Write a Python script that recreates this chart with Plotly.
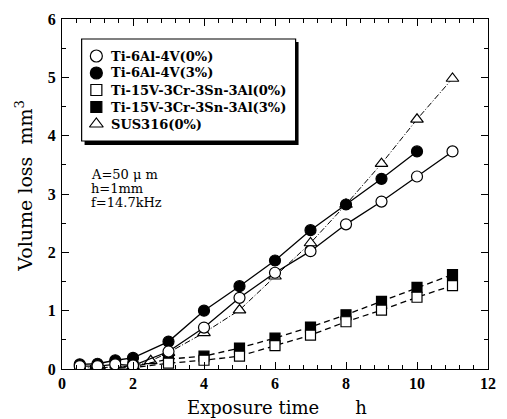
import plotly.graph_objects as go

# ---- data ----
x_ti64_0 = [0.5, 1, 1.5, 2, 3, 4, 5, 6, 7, 8, 9, 10, 11]
y_ti64_0 = [0.05, 0.05, 0.08, 0.06, 0.30, 0.71, 1.22, 1.65, 2.02, 2.48, 2.87, 3.30, 3.73]
x_ti64_3 = [0.5, 1, 1.5, 2, 3, 4, 5, 6, 7, 8, 9, 10]
y_ti64_3 = [0.08, 0.09, 0.15, 0.19, 0.47, 1.00, 1.42, 1.86, 2.38, 2.82, 3.26, 3.73]
x_ti15_0 = [0.5, 1, 2, 3, 4, 5, 6, 7, 8, 9, 10, 11]
y_ti15_0 = [0.01, 0.01, 0.02, 0.10, 0.15, 0.22, 0.40, 0.58, 0.81, 1.01, 1.23, 1.43]
x_ti15_3 = [0.5, 1, 2, 3, 4, 5, 6, 7, 8, 9, 10, 11]
y_ti15_3 = [0.02, 0.02, 0.04, 0.17, 0.22, 0.36, 0.53, 0.72, 0.93, 1.16, 1.40, 1.62]
x_sus = [0.5, 1, 2, 2.5, 3, 4, 5, 6, 7, 8, 9, 10, 11]
y_sus = [0.02, 0.02, 0.05, 0.14, 0.28, 0.62, 1.01, 1.59, 2.16, 2.82, 3.52, 4.28, 4.98]

names = ["Ti-6Al-4V(0%)", "Ti-6Al-4V(3%)", "Ti-15V-3Cr-3Sn-3Al(0%)",
         "Ti-15V-3Cr-3Sn-3Al(3%)", "SUS316(0%)"]
x_ticks = [0, 2, 4, 6, 8, 10, 12]
y_ticks = [0, 1, 2, 3, 4, 5, 6]
cond_lines = ["A=50 \u03bc m", "h=1mm", "f=14.7kHz"]

SERIF = "Liberation Serif"
WIDE = "DejaVu Serif"

# ---- styles ----
styles = [
    dict(symbol="circle", fill="white", dash="solid", lw=1.3, size=11),
    dict(symbol="circle", fill="black", dash="solid", lw=1.3, size=11),
    dict(symbol="square", fill="white", dash="6px,4px", lw=1.3, size=10),
    dict(symbol="square", fill="black", dash="6px,4px", lw=1.3, size=10),
    dict(symbol="triangle-up", fill="white", dash="6px,2px,1px,2px", lw=1.0, size=11),
]
series = [(x_ti64_0, y_ti64_0), (x_ti64_3, y_ti64_3), (x_ti15_0, y_ti15_0),
          (x_ti15_3, y_ti15_3), (x_sus, y_sus)]
order = [4, 3, 2, 1, 0]

fig = go.Figure()
for i in order:
    xs, ys = series[i]
    s = styles[i]
    fig.add_trace(go.Scatter(
        x=xs, y=ys, mode="lines+markers", name=names[i], showlegend=False,
        line=dict(color="black", width=s["lw"], dash=s["dash"]),
        marker=dict(symbol=s["symbol"], size=s["size"], color=s["fill"],
                    line=dict(color="black", width=1.2)),
    ))

# plot area in pixels
L, R, T, B = 62, 496, 19, 369
W, H = R - L, B - T
def px(x):
    return (x - L) / W
def py(y):
    return (B - y) / H

# legend (manual)
rows = [56, 73, 90, 107, 124]
for i in range(5):
    s = styles[i]
    fig.add_trace(go.Scatter(
        x=[px(97)], y=[py(rows[i])], xaxis="x2", yaxis="y2", mode="markers",
        showlegend=False, hoverinfo="skip",
        marker=dict(symbol=s["symbol"], size=s["size"] + 1, color=s["fill"],
                    line=dict(color="black", width=1.2)),
    ))
    fig.add_annotation(x=px(110), y=py(rows[i]), xref="paper", yref="paper",
                       text="<b>" + names[i] + "</b>", showarrow=False,
                       xanchor="left", yanchor="middle",
                       font=dict(family=WIDE, size=13, color="black"))

fig.add_shape(type="rect", xref="paper", yref="paper", layer="below",
              x0=px(85), x1=px(303), y0=py(145), y1=py(42),
              fillcolor="black", line=dict(width=0))
fig.add_shape(type="rect", xref="paper", yref="paper", layer="below",
              x0=px(82), x1=px(300), y0=py(141), y1=py(39),
              fillcolor="white", line=dict(color="black", width=1.2))

for j, t in enumerate(cond_lines):
    fig.add_annotation(x=px(90), y=py(174 + 14 * j), xref="paper", yref="paper",
                       text=t, showarrow=False, xanchor="left", yanchor="middle",
                       font=dict(family=WIDE, size=13, color="black"))

fig.add_annotation(x=px(281), y=py(407), xref="paper", yref="paper",
                   text="Exposure time\u3000\u3000h", showarrow=False, yanchor="middle",
                   font=dict(family=WIDE, size=18, color="black"))
fig.add_annotation(x=px(23), y=py(186), xref="paper", yref="paper",
                   text="Volume loss  mm<sup>3</sup>", showarrow=False, textangle=-90,
                   xanchor="center", yanchor="middle",
                   font=dict(family=WIDE, size=19, color="black"))

axis_common = dict(showgrid=False, zeroline=False, showline=True, linecolor="black",
                   linewidth=1.3, mirror="ticks", ticks="inside", ticklen=7, tickwidth=1.2,
                   tickcolor="black",
                   tickfont=dict(family=SERIF, size=16, color="black"))
fig.update_layout(
    width=507, height=419,
    margin=dict(l=L, r=507 - R, t=T, b=419 - B),
    paper_bgcolor="white", plot_bgcolor="white",
    font=dict(family=SERIF, color="black"),
    xaxis=dict(range=[0, 12], tickvals=x_ticks, ticktext=["<b>%d</b>" % v for v in x_ticks],
               minor=dict(dtick=0.4, tick0=0, ticks="inside", ticklen=4, tickcolor="black", tickwidth=1),
               **axis_common),
    yaxis=dict(range=[0, 6], tickvals=y_ticks, ticktext=["<b>%d</b>" % v for v in y_ticks],
               ticklabelstandoff=2,
               minor=dict(dtick=0.5, tick0=0, ticks="inside", ticklen=4, tickcolor="black", tickwidth=1),
               **axis_common),
    xaxis2=dict(range=[0, 1], overlaying="x", visible=False, anchor="y2"),
    yaxis2=dict(range=[0, 1], overlaying="y", visible=False, anchor="x2"),
)

fig.write_html("out.html")
